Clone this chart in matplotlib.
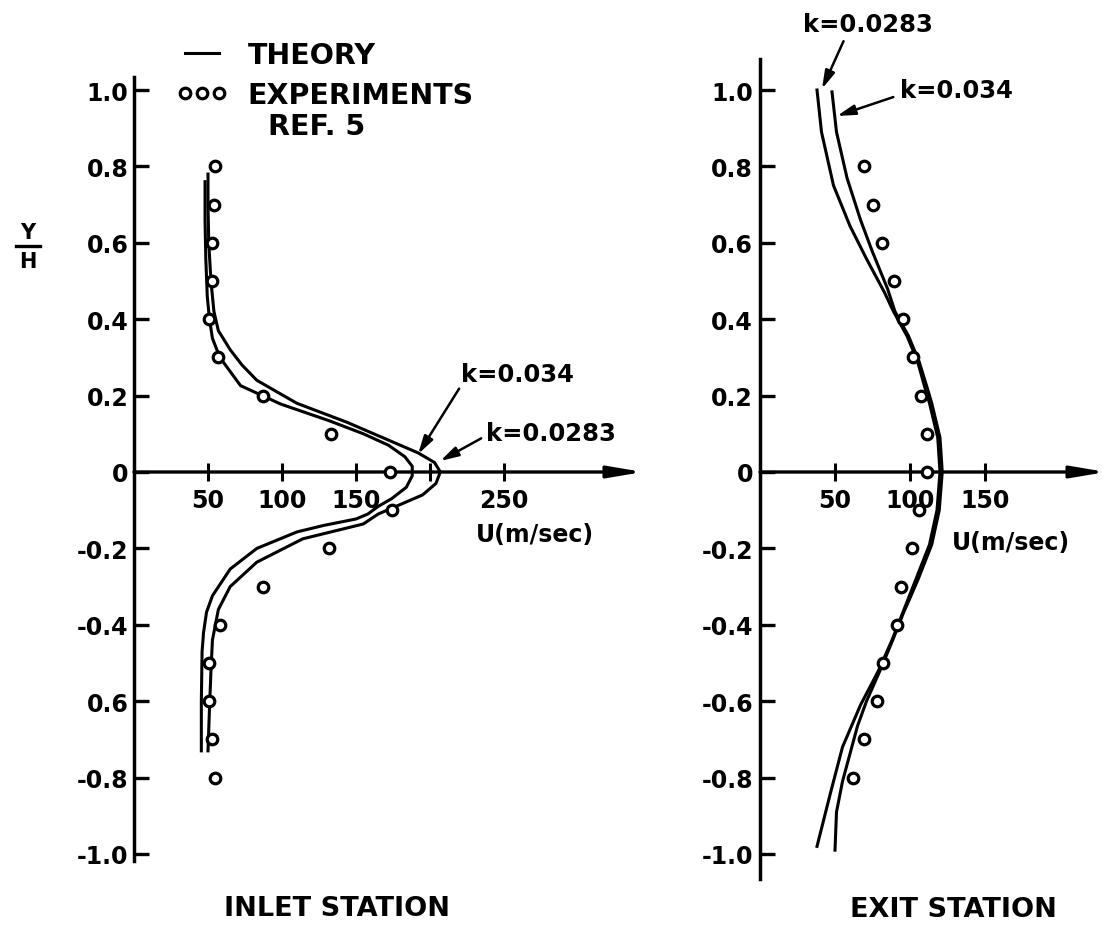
import matplotlib
matplotlib.use('Agg')
import matplotlib.pyplot as plt
from matplotlib.lines import Line2D

W, H = 1108, 928
plt.rcParams['font.family'] = ['DejaVu Sans']
plt.rcParams['font.weight'] = 'bold'

# ---------------- data ----------------
yh_ticks = [-1.0, -0.8, -0.6, -0.4, -0.2, 0.0, 0.2, 0.4, 0.6, 0.8, 1.0]
inlet_ytick_labels = ["-1.0", "-0.8", "0.6", "-0.4", "-0.2", "0", "0.2", "0.4", "0.6", "0.8", "1.0"]
exit_ytick_labels = ["-1.0", "-0.8", "-0.6", "-0.4", "-0.2", "0", "0.2", "0.4", "0.6", "0.8", "1.0"]
inlet_xticks = [50, 100, 150, 200, 250]
inlet_xtick_labels = ["50", "100", "150", "", "250"]
exit_xticks = [50, 100, 150]
exit_xtick_labels = ["50", "100", "150"]

# Inlet station - experiments (Ref. 5)
inlet_exp_y = [0.8, 0.7, 0.6, 0.5, 0.4, 0.3, 0.2, 0.1, 0.0, -0.1, -0.2, -0.3, -0.4, -0.5, -0.6, -0.7, -0.8]
inlet_exp_u = [55, 54, 53, 53, 51, 57, 87, 133, 173, 174, 132, 87, 58, 51, 51, 53, 55]

# Inlet station - theory k = 0.0283
inlet_k0283_y = [0.78, 0.70, 0.60, 0.50, 0.42, 0.37, 0.32, 0.28, 0.24, 0.18, 0.13, 0.08, 0.05, 0.025,
                 0.0, -0.03, -0.06, -0.085, -0.11, -0.136, -0.175, -0.236, -0.30, -0.36, -0.44,
                 -0.52, -0.62, -0.73]
inlet_k0283_u = [50, 50, 50.5, 52, 54, 57, 65, 73, 83, 110, 144, 174, 192, 203,
                 207, 204, 195, 180, 165, 155, 114, 83, 65, 57, 53,
                 52, 51, 50]

# Inlet station - theory k = 0.034
inlet_k034_y = [0.76, 0.66, 0.56, 0.46, 0.40, 0.35, 0.30, 0.226, 0.178, 0.134, 0.10, 0.07, 0.04,
                0.015, -0.01, -0.04, -0.07, -0.09, -0.11, -0.123, -0.14, -0.157, -0.20, -0.254,
                -0.324, -0.367, -0.42, -0.47, -0.60, -0.73]
inlet_k034_u = [48, 48, 48.5, 49.5, 51, 53, 58, 72, 99, 132, 155, 172, 183,
                188, 188, 184, 174, 165, 158, 150, 128, 110, 83, 65,
                53, 49, 47, 46, 45.5, 45.5]

# Exit station - experiments
exit_exp_y = [0.8, 0.7, 0.6, 0.5, 0.4, 0.3, 0.2, 0.1, 0.0, -0.1, -0.2, -0.3, -0.4, -0.5, -0.6, -0.7, -0.8]
exit_exp_u = [69, 75, 81, 89, 95, 102, 107, 111, 111, 106, 101, 94, 91, 82, 78, 69, 62]

# Exit station - theory k = 0.0283
exit_k0283_y = [1.0, 0.89, 0.75, 0.644, 0.558, 0.47, 0.42, 0.356, 0.29, 0.22, 0.18, 0.09, 0.0,
                -0.1, -0.19, -0.28, -0.33, -0.37, -0.44, -0.52, -0.61, -0.72, -0.84, -0.98]
exit_k0283_u = [38, 41, 49, 60, 71, 83, 89, 98, 105, 110, 113, 118.5, 120,
                118, 113, 104, 99, 95, 88, 79, 67, 55, 47, 38]

# Exit station - theory k = 0.034
exit_k034_y = [0.995, 0.89, 0.77, 0.66, 0.576, 0.48, 0.42, 0.356, 0.29, 0.22, 0.18, 0.09, 0.0,
               -0.1, -0.19, -0.28, -0.33, -0.37, -0.44, -0.52, -0.60, -0.665, -0.81, -0.89, -0.99]
exit_k034_u = [48, 51, 58, 67, 75, 85, 90, 99, 106, 111.5, 114.5, 120, 121.5,
               119.5, 114.5, 105.5, 100, 95.5, 88.5, 80, 71, 65, 55, 51, 50]

# ---------------- layout helpers ----------------
def fx(x):
    return x / W

def fy(y):
    return 1 - y / H

Y0 = 473.0        # pixel row of Y/H = 0
YS = 382.0        # pixels per unit Y/H
TOP, BOT = 10, 920


def make_axes(fig, px_left, px_right, x0, xs):
    xmin = (px_left - x0) / xs
    xmax = (px_right - x0) / xs
    ymin = (Y0 - BOT) / YS
    ymax = (Y0 - TOP) / YS
    ax = fig.add_axes([fx(px_left), fy(BOT), (px_right - px_left) / W, (BOT - TOP) / H])
    ax.set_xlim(xmin, xmax)
    ax.set_ylim(ymin, ymax)
    ax.patch.set_visible(False)
    for s in ('top', 'right'):
        ax.spines[s].set_visible(False)
    ax.spines['bottom'].set_position(('data', 0))
    ax.spines['bottom'].set_visible(False)
    ax.spines['left'].set_position(('data', 0))
    ax.spines['left'].set_linewidth(2.5)
    return ax


fig = plt.figure(figsize=(W / 100, H / 100), dpi=100)

LW = 2.2
MS = 7.6
MEW = 2.3
TICK_FS = 17
K_FS = 17.5
ARROW = dict(arrowstyle='-|>,head_length=0.9,head_width=0.25', lw=1.8,
             color='black', mutation_scale=12, shrinkB=0)

# ---------------- inlet panel ----------------
axL = make_axes(fig, 100, 660, 134.0, 1.48)
axL.spines['left'].set_bounds((Y0 - 862) / YS, (Y0 - 78) / YS)
axL.set_yticks(yh_ticks)
axL.set_yticklabels(inlet_ytick_labels)
axL.set_xticks(inlet_xticks)
axL.set_xticklabels(inlet_xtick_labels)
axL.tick_params(axis='y', direction='in', length=11, width=2.4, pad=4, labelsize=TICK_FS)
axL.tick_params(axis='x', direction='inout', length=13, width=2.2, pad=5, labelsize=TICK_FS)
axL.annotate('', xy=((643 - 134) / 1.48, 0), xytext=(0, 0),
             arrowprops=dict(arrowstyle='-|>,head_length=1.3,head_width=0.22', lw=2.4,
                             color='black', mutation_scale=16, shrinkA=0, shrinkB=0))

axL.plot(inlet_k0283_u, inlet_k0283_y, color='black', lw=LW, zorder=2)
axL.plot(inlet_k034_u, inlet_k034_y, color='black', lw=LW, zorder=2)
axL.plot(inlet_exp_u, inlet_exp_y, ls='none', marker='o', ms=MS, mew=MEW,
         mfc='white', mec='black', zorder=3)

axL.annotate('k=0.034', xy=(192, 0.047), xytext=(259, 0.257), ha='center', va='center',
             fontsize=K_FS, fontweight='bold',
             arrowprops=dict(ARROW, shrinkA=0, relpos=(0.0, 0.0)))
axL.annotate('k=0.0283', xy=(207, 0.029), xytext=(282, 0.102), ha='center', va='center',
             fontsize=K_FS, fontweight='bold',
             arrowprops=dict(ARROW, shrinkA=2, relpos=(0.0, 0.4)))
axL.text((535 - 134) / 1.48, (Y0 - 535) / YS, 'U(m/sec)', ha='center', va='center',
         fontsize=TICK_FS, fontweight='bold')

# legend
leg = axL.legend(handles=[Line2D([], [], color='black', lw=LW),
                          Line2D([], [], ls='none', marker='o', ms=MS, mew=MEW,
                                 mfc='white', mec='black')],
                 labels=['THEORY', 'EXPERIMENTS'], loc='upper left',
                 bbox_to_anchor=(fx(176), fy(42)), bbox_transform=fig.transFigure,
                 frameon=False, numpoints=3, handlelength=1.8, handletextpad=0.72,
                 labelspacing=0.42, borderpad=0, borderaxespad=0,
                 prop={'size': 20.5, 'weight': 'bold'})
fig.text(fx(268), fy(127), 'REF. 5', ha='left', va='center', fontsize=20.5, fontweight='bold')

fig.text(fx(337), fy(909), 'INLET STATION', ha='center', va='center', fontsize=19.5,
         fontweight='bold')

# Y/H label
fig.text(fx(28), fy(233), 'Y', ha='center', va='center', fontsize=15, fontweight='bold')
fig.text(fx(28), fy(262), 'H', ha='center', va='center', fontsize=15, fontweight='bold')
fig.add_artist(Line2D([fx(16), fx(40)], [fy(247), fy(247)], color='black', lw=2.4))

# ---------------- exit panel ----------------
axR = make_axes(fig, 720, 1108, 760.0, 1.5)
axR.spines['left'].set_bounds((Y0 - 880) / YS, (Y0 - 60) / YS)
axR.set_yticks(yh_ticks)
axR.set_yticklabels(exit_ytick_labels)
axR.set_xticks(exit_xticks)
axR.set_xticklabels(exit_xtick_labels)
axR.tick_params(axis='y', direction='in', length=11, width=2.4, pad=5, labelsize=TICK_FS)
axR.tick_params(axis='x', direction='inout', length=13, width=2.2, pad=5, labelsize=TICK_FS)
axR.annotate('', xy=((1106 - 760) / 1.5, 0), xytext=(0, 0),
             arrowprops=dict(arrowstyle='-|>,head_length=1.3,head_width=0.22', lw=2.4,
                             color='black', mutation_scale=16, shrinkA=0, shrinkB=0),
             annotation_clip=False)

axR.plot(exit_k0283_u, exit_k0283_y, color='black', lw=LW, zorder=2, clip_on=False)
axR.plot(exit_k034_u, exit_k034_y, color='black', lw=LW, zorder=2, clip_on=False)
axR.plot(exit_exp_u, exit_exp_y, ls='none', marker='o', ms=MS, mew=MEW,
         mfc='white', mec='black', zorder=3)

axR.annotate('k=0.0283', xy=(41.3, 1.003), xytext=(72, 1.173), ha='center', va='center',
             fontsize=K_FS, fontweight='bold', annotation_clip=False,
             arrowprops=dict(ARROW, shrinkA=2, relpos=(0.33, 0.0)))
axR.annotate('k=0.034', xy=(51.3, 0.932), xytext=(131, 1.0), ha='center', va='center',
             fontsize=K_FS, fontweight='bold', annotation_clip=False,
             arrowprops=dict(ARROW, shrinkA=3, relpos=(0.0, 0.3)))
axR.text((1011 - 760) / 1.5, (Y0 - 543) / YS, 'U(m/sec)', ha='center', va='center',
         fontsize=TICK_FS, fontweight='bold')

fig.text(fx(953), fy(910), 'EXIT STATION', ha='center', va='center', fontsize=19.5,
         fontweight='bold')

fig.savefig('out.png', dpi=100, facecolor='white')
